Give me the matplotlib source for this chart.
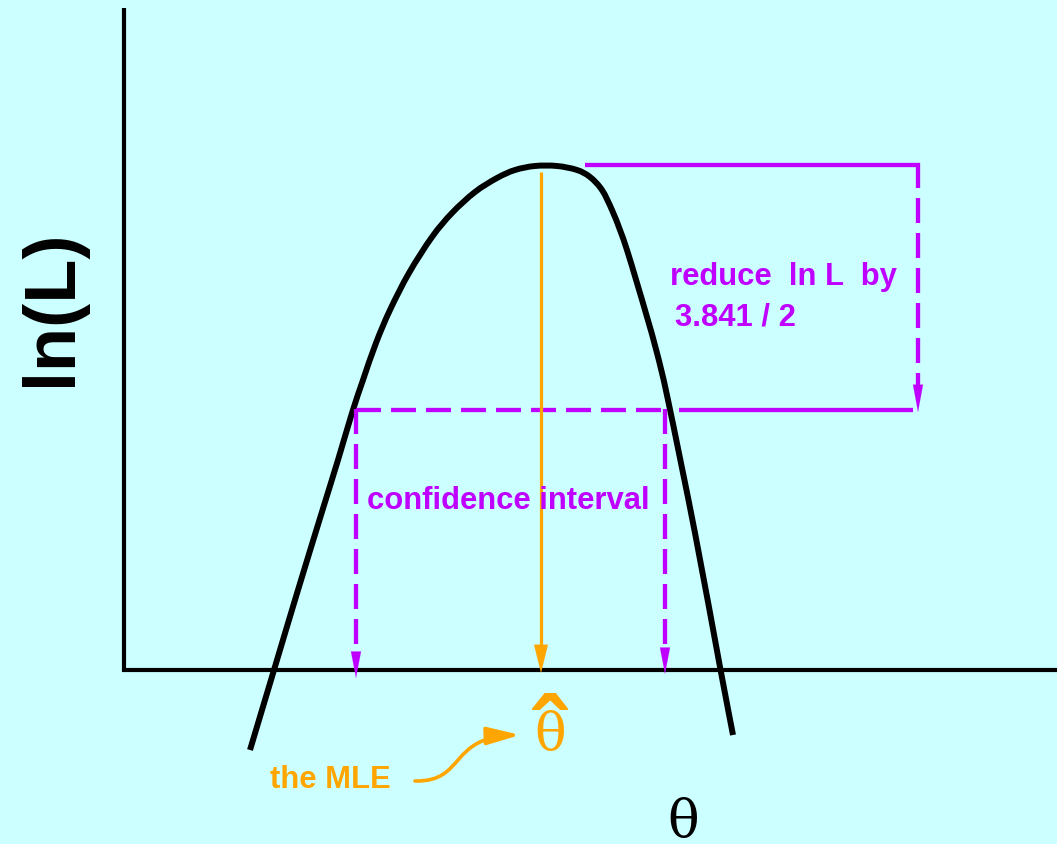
import matplotlib
matplotlib.use("Agg")
import matplotlib.pyplot as plt
from matplotlib.path import Path
from matplotlib.patches import FancyArrowPatch, PathPatch

plt.rcParams['lines.scale_dashes'] = False

# ---- data (pixel-space schematic, y grows downward) ----
curve_x = [250, 274, 298, 321, 338, 352, 363, 376, 390, 409, 432, 452, 475, 497,
           515, 535, 557, 577, 590, 602, 612, 620, 627, 637, 647, 657, 668, 695, 720, 733]
curve_y = [750, 670, 590, 515, 460, 413, 380, 343, 310, 273, 237, 213, 192, 178,
           170, 166, 166, 170, 177, 190, 210, 230, 250, 283, 317, 353, 400, 533, 667, 735]

mle_x = 541
peak_y = 172
cut_y = 410          # lnL_max - 3.841/2
ci_low = 356
ci_high = 665
axis_y = 670
axis_x = 124
drop_x = 918
top_y = 164.5

texts_purple = ["reduce  ln L  by", "3.841 / 2", "confidence interval"]
ylabel = "ln(L)"
xlabel = "\u03b8"
mle_label = "the MLE"

BG = '#CCFFFF'
PURPLE = '#BF00FF'
ORANGE = '#FFA500'

fig = plt.figure(figsize=(10.57, 8.44), dpi=100)
fig.patch.set_facecolor(BG)
ax = fig.add_axes([0, 0, 1, 1])
ax.set_facecolor(BG)
ax.set_xlim(0, 1057)
ax.set_ylim(844, 0)
ax.axis('off')

# axes lines
ax.plot([axis_x, axis_x], [8, axis_y + 2], color='black', lw=3.0, solid_capstyle='butt')
ax.plot([axis_x - 2, 1057], [axis_y, axis_y], color='black', lw=3.0, solid_capstyle='butt')

# likelihood curve: smooth path through the read points (Catmull-Rom -> Bezier)
pts = list(zip(curve_x, curve_y))
verts = [pts[0]]
codes = [Path.MOVETO]
for i in range(len(pts) - 1):
    p0 = pts[i - 1] if i > 0 else pts[i]
    p1 = pts[i]
    p2 = pts[i + 1]
    p3 = pts[i + 2] if i + 2 < len(pts) else pts[i + 1]
    c1 = (p1[0] + (p2[0] - p0[0]) / 6, p1[1] + (p2[1] - p0[1]) / 6)
    c2 = (p2[0] - (p3[0] - p1[0]) / 6, p2[1] - (p3[1] - p1[1]) / 6)
    verts += [c1, c2, p2]
    codes += [Path.CURVE4] * 3
ax.add_patch(PathPatch(Path(verts, codes), facecolor='none', edgecolor='black',
                       lw=4.3, capstyle='butt', joinstyle='round'))

dash = (0, (18, 7.2))
lw_p = 3.1
# top solid line from peak to right
ax.plot([585, drop_x + 2], [top_y, top_y], color=PURPLE, lw=lw_p, solid_capstyle='butt')
# right vertical dashed drop
ax.plot([drop_x, drop_x], [top_y - 1.5, cut_y - 22], color=PURPLE, lw=lw_p, linestyle=dash,
        dash_capstyle='butt')
# cut line: dashed part then solid part
ax.plot([ci_low, ci_high + 2], [cut_y, cut_y], color=PURPLE, lw=lw_p, linestyle=dash,
        dash_capstyle='butt')
ax.plot([679, drop_x - 5], [cut_y, cut_y], color=PURPLE, lw=lw_p, solid_capstyle='butt')
# CI verticals
for xv, tip in [(ci_low, 678), (ci_high, 674)]:
    ax.plot([xv, xv], [cut_y - 1.5, tip - 22], color=PURPLE, lw=lw_p, linestyle=dash,
            dash_capstyle='butt')

def head(x, tip, color, length, width):
    ax.annotate('', xy=(x, tip), xytext=(x, tip - length),
                arrowprops=dict(arrowstyle=f'-|>,head_length={length*0.72/20:.2f},head_width={width*0.72/20:.2f}',
                                mutation_scale=20, color=color, lw=0.1, shrinkA=0, shrinkB=0))

head(ci_low, 678, PURPLE, 26, 5)
head(ci_high, 674, PURPLE, 26, 5)
head(drop_x, 412, PURPLE, 27, 5)

# orange MLE line with arrow
ax.plot([mle_x, mle_x], [peak_y, 650], color=ORANGE, lw=2.3, solid_capstyle='butt')
head(mle_x, 673, ORANGE, 28, 7)

# texts
ax.text(52, 308, ylabel, rotation=90, ha='center', va='center', fontsize=52,
        fontweight='bold', family='Liberation Sans', color='black')
ax.text(670, 285, texts_purple[0], ha='left', va='baseline', fontsize=22.3,
        fontweight='bold', family='Liberation Sans', color=PURPLE)
ax.text(675, 325, texts_purple[1], ha='left', va='baseline', fontsize=22.3,
        fontweight='bold', family='Liberation Sans', color=PURPLE)
ax.text(367, 509, texts_purple[2], ha='left', va='baseline', fontsize=22.3,
        fontweight='bold', family='Liberation Sans', color=PURPLE)
ax.text(270, 788, mle_label, ha='left', va='baseline', fontsize=22.3,
        fontweight='bold', family='Liberation Sans', color=ORANGE)

ax.text(550, 750, xlabel, ha='center', va='baseline', fontsize=38,
        family='DejaVu Serif', color=ORANGE)
ax.text(549, 768, '\u02c6', ha='center', va='baseline', fontsize=72,
        fontweight='bold', family='Liberation Sans', color=ORANGE)
ax.text(683, 837, xlabel, ha='center', va='baseline', fontsize=38,
        family='DejaVu Serif', color='black')

# curved arrow for "the MLE"
verts2 = [(415, 781), (466, 782), (448, 737), (520, 735)]
codes2 = [Path.MOVETO, Path.CURVE4, Path.CURVE4, Path.CURVE4]
arr = FancyArrowPatch(path=Path(verts2, codes2),
                      arrowstyle='-|>,head_length=1.0,head_width=0.27',
                      mutation_scale=20, color=ORANGE, lw=2.6, shrinkA=0, shrinkB=0)
ax.add_patch(arr)

fig.savefig('out.png', dpi=100, facecolor=BG)
